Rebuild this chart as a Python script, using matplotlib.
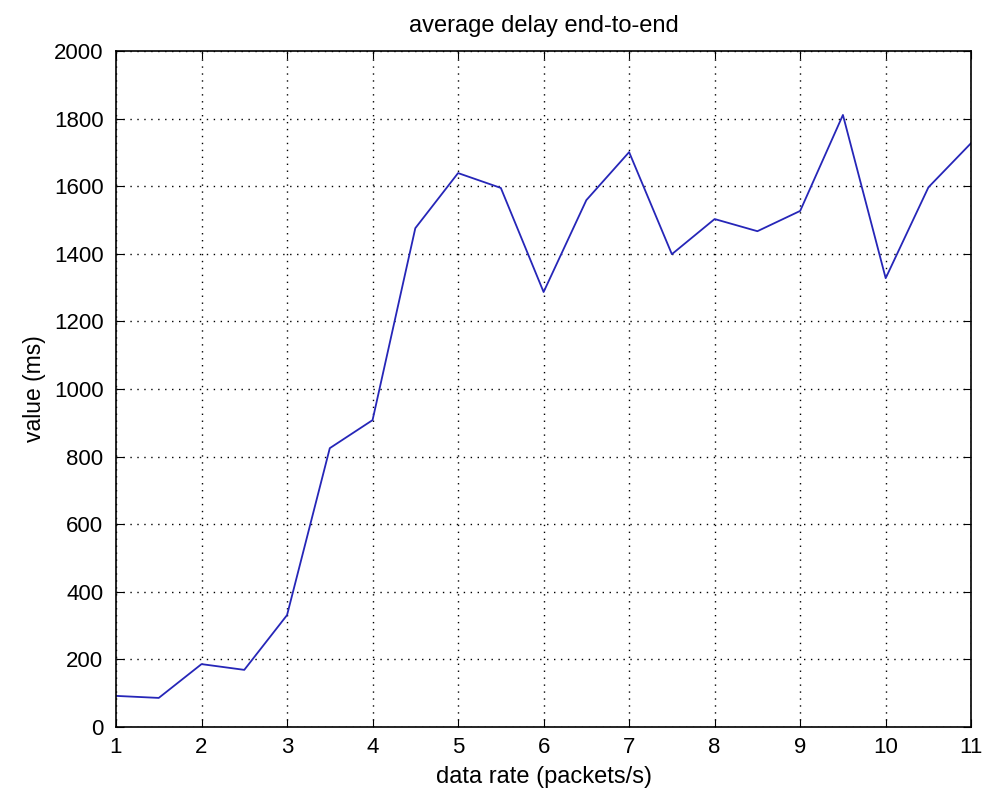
import matplotlib
matplotlib.use("Agg")
import matplotlib.pyplot as plt

plt.rcParams['font.family'] = ['Liberation Sans', 'DejaVu Sans']

# data rate (packets/s) and measured mean end-to-end delay (ms)
rate = [1, 1.5, 2, 2.5, 3, 3.5, 4, 4.5, 5, 5.5, 6, 6.5, 7, 7.5, 8, 8.5, 9, 9.5, 10, 10.5, 11]
delay = [92, 86, 186, 169, 331, 825, 908, 1476, 1639, 1595, 1287, 1559, 1701,
         1399, 1503, 1467, 1527, 1811, 1328, 1597, 1728]

x_ticks = list(range(1, 12))
y_ticks = list(range(0, 2001, 200))

fig = plt.figure(figsize=(9.83, 7.98), dpi=100)
ax = fig.add_axes([0.118, 0.089, 0.870, 0.847])

ax.plot(rate, delay, color='#2626b8', linewidth=1.3)

ax.set_xlim(1, 11)
ax.set_ylim(0, 2000)
ax.set_xticks(x_ticks)
ax.set_yticks(y_ticks)
ax.grid(True, color='black', linestyle=(0, (1, 4)), linewidth=1.0)
ax.tick_params(direction='in', top=True, right=True, length=6, labelsize=16)
ax.tick_params(axis='y', pad=9)
ax.tick_params(axis='x', pad=7)
for s in ax.spines.values():
    s.set_linewidth(1.2)

ax.set_title('average delay end-to-end', fontsize=17, pad=14)
ax.set_xlabel('data rate (packets/s)', fontsize=17, labelpad=6)
ax.set_ylabel('value (ms)', fontsize=16.5, labelpad=6)

fig.savefig('out.png', dpi=100)
